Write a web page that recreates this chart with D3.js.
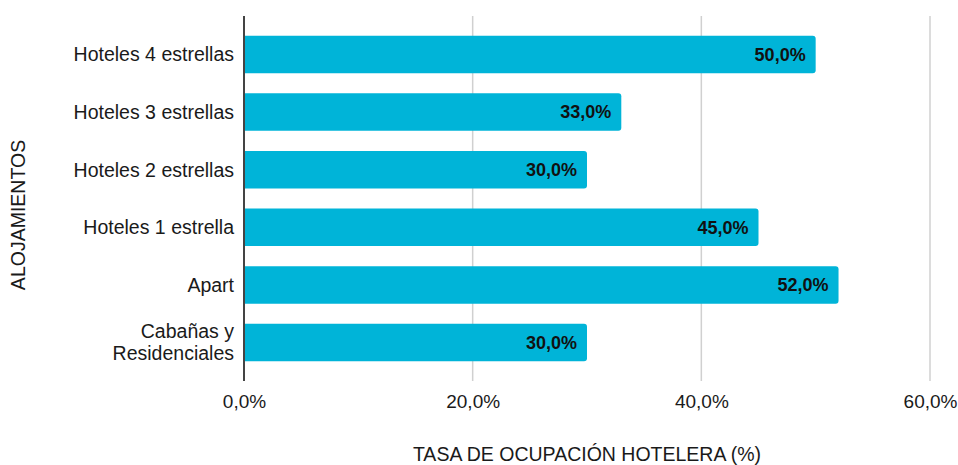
<!DOCTYPE html>
<html><head><meta charset="utf-8">
<script src="https://cdn.jsdelivr.net/npm/d3@7"></script>
<style>body{margin:0;background:#fff}svg{display:block;font-family:"Liberation Sans",Arial,sans-serif}</style>
</head><body><svg id="c" width="958" height="465"></svg>
<script>
const categories = ["Hoteles 4 estrellas","Hoteles 3 estrellas","Hoteles 2 estrellas","Hoteles 1 estrella","Apart","Cabañas y\nResidenciales"];
const values = [50, 33, 30, 45, 52, 30];
const xTicks = [0, 20, 40, 60];
const xTitle = "TASA DE OCUPACIÓN HOTELERA (%)";
const yTitle = "ALOJAMIENTOS";

const FONT = "'Liberation Sans', Arial, sans-serif";
const fmt = v => v.toFixed(1).replace(".", ",") + "%";
const svg = d3.select("#c");
const x = d3.scaleLinear().domain([0, 60]).range([244, 930]);
const y = d3.scaleBand().domain(categories).range([16, 381]).paddingInner(0.35).paddingOuter(0.343);

// gridlines
svg.append("g").selectAll("line").data(xTicks.filter(t => t > 0)).join("line")
  .attr("x1", d => x(d)).attr("x2", d => x(d)).attr("y1", 16).attr("y2", 381)
  .attr("stroke", "#d0d0d0").attr("stroke-width", 1.5);

// x tick labels via axis
const xAxis = svg.append("g").attr("transform", "translate(0,381)")
  .call(d3.axisBottom(x).tickValues(xTicks).tickFormat(fmt).tickSize(0).tickPadding(14));
xAxis.select(".domain").remove();
xAxis.selectAll("text").attr("font-size", 19).attr("fill", "#1a1a1a").attr("font-family", FONT);

// bars with rounded right corners
const r = 3;
svg.append("g").selectAll("path").data(categories).join("path")
  .attr("fill", "#00B4D8")
  .attr("d", (c, i) => {
    const x0 = x(0) + 1, x1 = x(values[i]), y0 = y(c), h = y.bandwidth();
    return `M${x0},${y0}H${x1 - r}Q${x1},${y0} ${x1},${y0 + r}V${y0 + h - r}Q${x1},${y0 + h} ${x1 - r},${y0 + h}H${x0}Z`;
  });

// value labels
svg.append("g").selectAll("text").data(categories).join("text")
  .attr("x", (c, i) => x(values[i]) - 10)
  .attr("y", c => y(c) + y.bandwidth() / 2)
  .attr("dy", "0.35em").attr("text-anchor", "end")
  .attr("font-size", 18).attr("font-weight", "bold").attr("fill", "#111")
  .text((c, i) => fmt(values[i]));

// y axis line
svg.append("line").attr("x1", 244).attr("x2", 244).attr("y1", 16).attr("y2", 381)
  .attr("stroke", "#444").attr("stroke-width", 2);

// category labels
const cl = svg.append("g").selectAll("text").data(categories).join("text")
  .attr("x", 234).attr("text-anchor", "end").attr("font-size", 19.5).attr("fill", "#1a1a1a")
  .attr("y", c => y(c) + y.bandwidth() / 2);
cl.each(function(c) {
  const lines = c.split("\n");
  const t = d3.select(this);
  lines.forEach((ln, k) => {
    t.append("tspan").attr("x", 234)
      .attr("dy", k === 0 ? (0.35 - (lines.length - 1) * 0.56) + "em" : "1.12em")
      .text(ln);
  });
});

// axis titles
svg.append("text").attr("x", 587).attr("y", 461).attr("text-anchor", "middle")
  .attr("font-size", 19.5).attr("fill", "#1a1a1a").text(xTitle);
svg.append("text").attr("transform", "translate(25,215) rotate(-90)").attr("text-anchor", "middle")
  .attr("font-size", 19.5).attr("fill", "#1a1a1a").text(yTitle);
</script></body></html>
